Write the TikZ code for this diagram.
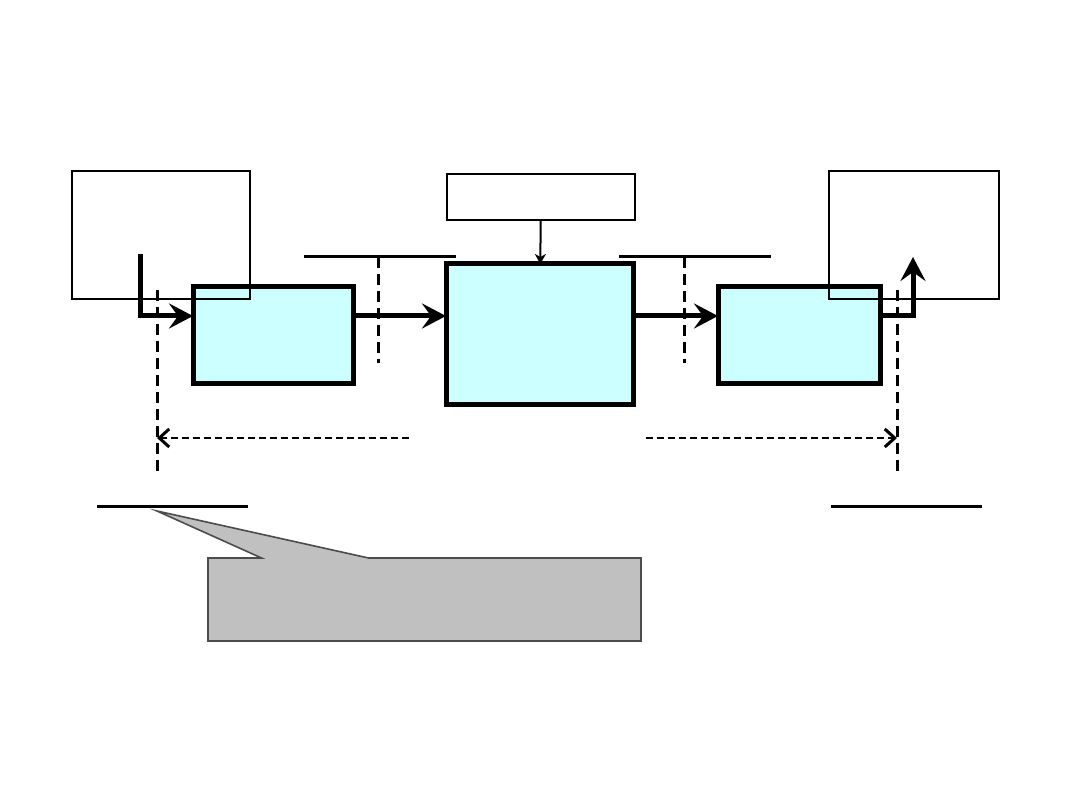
\documentclass[tikz,border=0pt]{standalone}
\usepackage{tikz}
\usetikzlibrary{arrows.meta,positioning,shapes.callouts}
\definecolor{stagefill}{HTML}{CCFFFF}
\definecolor{notefill}{HTML}{C0C0C0}

\begin{document}
\begin{tikzpicture}[
        x=1pt, y=-1pt,
        stage/.style={rectangle, draw, line width=5pt, fill=stagefill,
          inner sep=0pt, outer sep=0pt},
        frame/.style={rectangle, draw, line width=1.6pt, inner sep=0pt, outer sep=0pt},
        flow/.style={line width=5pt, -{Stealth[length=24pt,width=25pt,inset=9pt]}},
        bar/.style={line width=3pt},
        cut/.style={line width=3pt, dash pattern=on 11pt off 6pt},
        span/.style={line width=2.5pt, dash pattern=on 7pt off 4pt,
          -{Straight Barb[length=10pt,width=18pt,line width=3pt]}}
      ]
        \fill[white] (0,0) rectangle (1080,810);
        % processing chain
        \node[stage, minimum width=160pt, minimum height=97pt] (lb) at (273,335.5) {};
        \node[stage, minimum width=187pt, minimum height=141pt] (core) at (539.5,334.5) {};
        \node[stage, minimum width=162pt, minimum height=97pt] (rb) at (799,335.5) {};
        \node[frame, minimum width=188pt, minimum height=46pt] (ctrl) at (541,197) {};
        \draw[line width=2pt, -{Stealth[length=10pt,width=11pt,inset=3pt]}] (ctrl) -- (core);
        \coordinate (lvl) at (0,316);
        \draw[flow] (lb.east |- lvl) -- (core.west |- lvl);
        \draw[flow] (core.east |- lvl) -- (rb.west |- lvl);
        % in / out
        \coordinate (in) at (140,254);
        \coordinate (out) at (913,257);
        \draw[flow] (in) |- (lb.west |- lvl);
        \draw[flow] (rb.east |- lvl) -| (out);
        \node[frame, minimum width=178pt, minimum height=128pt] (src) at (161,235) {};
        \node[frame, minimum width=170pt, minimum height=128pt] (dst) at (914,235) {};
        % boundaries
        \coordinate (b1a) at (304,257);
        \coordinate (b1b) at (456,257);
        \coordinate (b2a) at (619,257);
        \coordinate (b2b) at (771,257);
        \draw[bar] (b1a) -- (b1b);
        \draw[bar] (b2a) -- (b2b);
        \draw[cut] (378,257) -- (378,363);
        \draw[cut] (684,257) -- (684,363);
        \coordinate (lcut) at (157,438);
        \coordinate (rcut) at (897,438);
        \draw[cut] (157,290) -- (157,473);
        \draw[cut] (897,290) -- (897,473);
        \draw[span] (409,438) -- (lcut);
        \draw[span] (646,438) -- (rcut);
        % lower marks
        \coordinate (m1a) at (97,506);
        \coordinate (m1b) at (248,506);
        \coordinate (m2a) at (831,506);
        \coordinate (m2b) at (982,506);
        \draw[bar] (m1a) -- (m1b);
        \draw[bar] (m2a) -- (m2b);
        \node[rectangle callout, draw=black!70, line width=1.6pt, fill=notefill,
          minimum width=433pt, minimum height=83pt, inner sep=0pt,
          callout absolute pointer={(157,511)}, callout pointer width=107pt]
          (note) at (424.5,599.5) {};
      \end{tikzpicture}
\end{document}
